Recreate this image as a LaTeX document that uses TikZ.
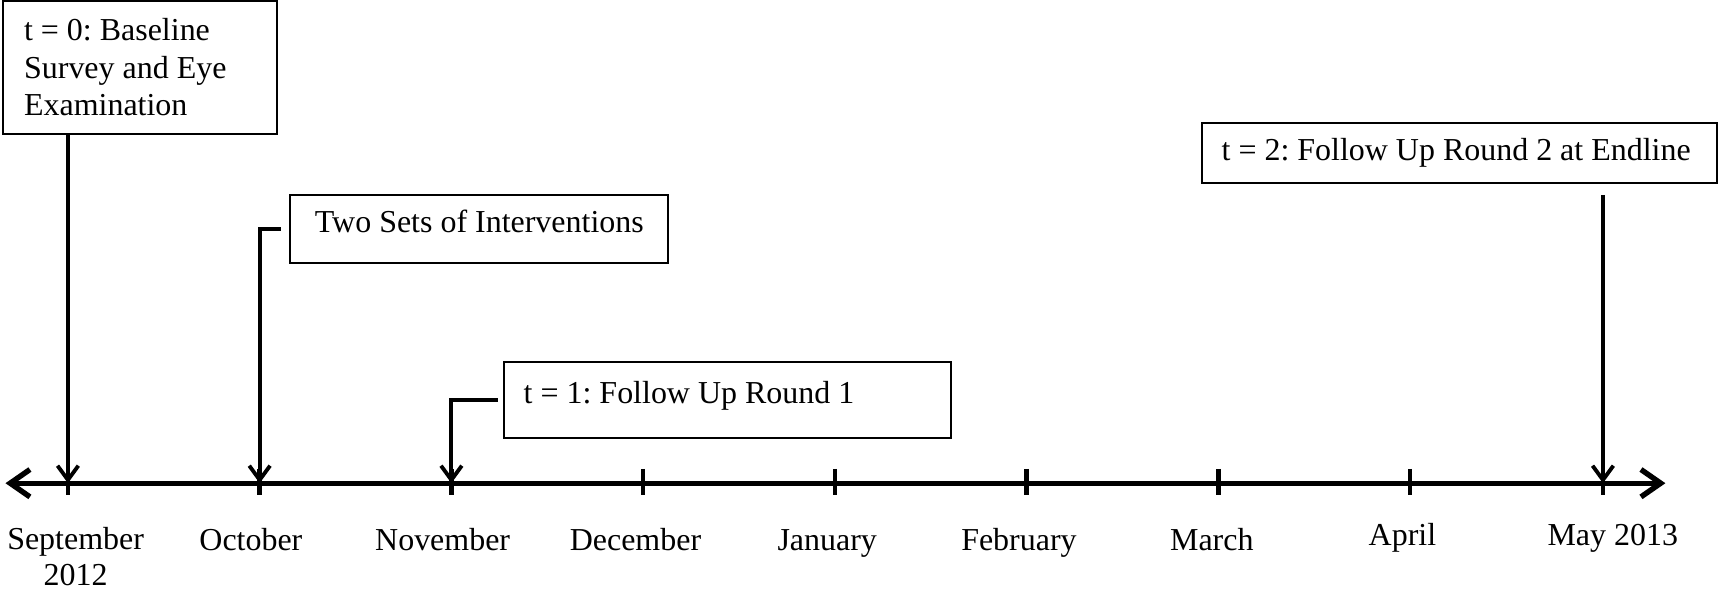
\documentclass[tikz,border=0pt]{standalone}
\usepackage{fontspec}
\setmainfont{Liberation Serif}
\usetikzlibrary{arrows.meta}
\tikzstyle{eventBox} = [rectangle, draw, line width=0.5pt, inner sep=0pt, font=\fontsize{8.3}{9.7}\selectfont\frenchspacing]
\tikzstyle{monthLabel} = [anchor=base, inner sep=0pt, align=center, font=\fontsize{8.3}{9.2}\selectfont]
\tikzstyle{timeArrow} = [-{Straight Barb[length=1.3mm,width=1.9mm]}, line width=1pt]
\tikzstyle{monthTick} = [line width=1.2pt]

\begin{document}
\begin{tikzpicture}[x=0.1mm, y=-0.1mm]
    \useasboundingbox (0,0) rectangle (1568,541);
    % the axis and its months
    \coordinate (axisStart) at (5,441);
    \coordinate (axisEnd) at (1520,441);
    \coordinate (sep) at (62,441);
    \coordinate (oct) at (237,441);
    \coordinate (nov) at (412,441);
    \coordinate (dec) at (587,441);
    \coordinate (jan) at (762,441);
    \coordinate (feb) at (937,441);
    \coordinate (mar) at (1112,441);
    \coordinate (apr) at (1287,441);
    \coordinate (may) at (1463,441);
    \draw [{Straight Barb[length=1.8mm,width=2.5mm]}-{Straight Barb[length=1.8mm,width=2.5mm]}, line width=1.4pt] (axisStart) -- (axisEnd);
    \draw [monthTick] ([yshift=1.3mm]sep) -- ([yshift=-1.1mm]sep);
    \draw [monthTick] ([yshift=1.3mm]oct) -- ([yshift=-1.1mm]oct);
    \draw [monthTick] ([yshift=1.3mm]nov) -- ([yshift=-1.1mm]nov);
    \draw [monthTick] ([yshift=1.3mm]dec) -- ([yshift=-1.1mm]dec);
    \draw [monthTick] ([yshift=1.3mm]jan) -- ([yshift=-1.1mm]jan);
    \draw [monthTick] ([yshift=1.3mm]feb) -- ([yshift=-1.1mm]feb);
    \draw [monthTick] ([yshift=1.3mm]mar) -- ([yshift=-1.1mm]mar);
    \draw [monthTick] ([yshift=1.3mm]apr) -- ([yshift=-1.1mm]apr);
    \draw [monthTick] ([yshift=1.3mm]may) -- ([yshift=-1.1mm]may);
    \node (sepLabel) [monthLabel, anchor=center] at (69,508) {September\\2012};
    \node (octLabel) [monthLabel] at (229,502) {October};
    \node (novLabel) [monthLabel] at (404,502) {November};
    \node (decLabel) [monthLabel] at (580,502) {December};
    \node (janLabel) [monthLabel] at (755,502) {January};
    \node (febLabel) [monthLabel] at (930,502) {February};
    \node (marLabel) [monthLabel] at (1106,502) {March};
    \node (aprLabel) [monthLabel] at (1280,498) {April};
    \node (mayLabel) [monthLabel] at (1472,498) {May 2013};
    % events
    \node (baselineBox) at (128,61.5) [eventBox, minimum width=25mm, minimum height=12.1mm, text width=21.2mm, align=flush left] {t = 0: Baseline\\Survey and Eye\\Examination};
    \node (interventions) at (437.5,209) [eventBox, minimum width=34.5mm, minimum height=6.2mm, text height=2.2mm, text depth=1.5mm] {Two Sets of Interventions};
    \node (roundOne) at (664,365) [eventBox, minimum width=40.8mm, minimum height=7mm, text width=37.2mm, align=flush left, text height=2.2mm, text depth=1.5mm] {t = 1: Follow Up Round 1};
    \node (endline) at (1332,139.5) [eventBox, minimum width=47mm, minimum height=5.5mm, text width=43.4mm, align=flush left] {t = 2: Follow Up Round 2 at Endline};
    \draw [timeArrow] (baselineBox.south -| sep) -- (sep);
    \draw [timeArrow] ([xshift=-0.8mm]interventions.west) -| (oct);
    \draw [timeArrow] ([xshift=-0.5mm]roundOne.west) -| (nov);
    \draw [timeArrow] ([yshift=-1mm]endline.south -| may) -- (may);
\end{tikzpicture}
\end{document}
